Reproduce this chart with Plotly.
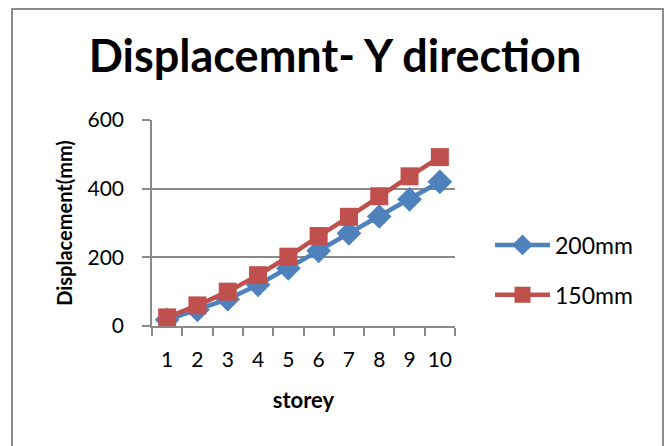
import plotly.graph_objects as go

storeys = ["1", "2", "3", "4", "5", "6", "7", "8", "9", "10"]
disp_200mm = [18, 47, 78, 120, 168, 219, 270, 319, 369, 420]
disp_150mm = [25, 60, 100, 148, 202, 262, 318, 378, 436, 492]

BLUE = "#4F81BD"
RED = "#C0504D"
GRID = "#8a8a8a"
FONT = "Lato"

fig = go.Figure()
fig.add_trace(go.Scatter(
    x=storeys, y=disp_200mm, name="200mm", mode="lines+markers",
    line=dict(color=BLUE, width=4.5),
    marker=dict(symbol="diamond", size=19, color=BLUE),
    legendgroup="a",
))
fig.add_trace(go.Scatter(
    x=storeys, y=disp_150mm, name="150mm", mode="lines+markers",
    line=dict(color=RED, width=4.5),
    marker=dict(symbol="square", size=18, color=RED),
    legendgroup="b",
))

# plot area spans x 152..455 px, y 120..326 px
L, R, T, B = 152, 455, 120, 326
pw, ph = R - L, B - T

def px_x(v):
    return (v - L) / pw

def px_y(v):
    return (B - v) / ph

fig.update_layout(
    width=670, height=446,
    margin=dict(l=L, r=670 - R, t=T, b=446 - B),
    paper_bgcolor="white", plot_bgcolor="white",
    font=dict(family=FONT, size=20, color="black"),
    showlegend=True,
    title=dict(
        text="<b>Displacemnt- Y direction</b>",
        font=dict(family=FONT, size=45, color="black"),
        x=px_x(335), xref="paper", xanchor="center",
        y=1 - 56 / 446, yref="container", yanchor="middle",
    ),
    legend=dict(
        x=px_x(490), xanchor="left", y=px_y(270), yanchor="middle",
        traceorder="grouped", tracegroupgap=17,
        font=dict(family=FONT, size=23, color="black"),
        bgcolor="rgba(0,0,0,0)", itemwidth=55,
    ),
    xaxis=dict(
        type="category", tickson="boundaries", tickangle=0,
        range=[-0.5, len(storeys) - 0.5],
        showgrid=False, showline=True, linecolor=GRID, linewidth=1.5,
        ticks="outside", ticklen=8, tickcolor=GRID, tickwidth=1.5,
        ticklabelstandoff=14,
        tickfont=dict(family=FONT, size=21),
        title=dict(text="<b>storey</b>", font=dict(family=FONT, size=22), standoff=23),
        fixedrange=True,
    ),
    yaxis=dict(
        range=[0, 600], tickvals=[0, 200, 400, 600],
        showgrid=True, gridcolor=GRID, gridwidth=1.5,
        showline=True, linecolor=GRID, linewidth=1.5,
        ticks="outside", ticklen=8, tickcolor=GRID, tickwidth=1.5,
        ticklabelstandoff=14,
        tickfont=dict(family=FONT, size=21),
        zeroline=False,
        title=dict(text="<b>Displacement(mm)</b>", font=dict(family=FONT, size=20), standoff=10),
        fixedrange=True,
    ),
    shapes=[dict(
        type="rect", xref="paper", yref="paper",
        x0=px_x(12), x1=px_x(663), y0=px_y(470), y1=px_y(9),
        line=dict(color="#8c8c8c", width=2), layer="below",
    )],
)

fig.write_html("out.html")
